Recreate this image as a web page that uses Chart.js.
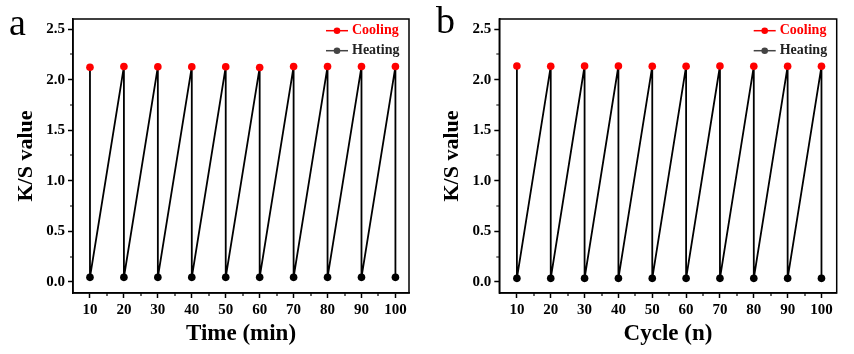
<!DOCTYPE html>
<html><head><meta charset="utf-8">
<script src="https://cdn.jsdelivr.net/npm/chart.js@4"></script>
<style>
html,body{margin:0;padding:0;background:#fff;}
#wrap{position:relative;width:854px;height:354px;overflow:hidden;background:#fff;}
.panel{position:absolute;top:0;height:354px;}
canvas{display:block;}
</style></head><body>
<div id="wrap">
<div class="panel" style="left:0;width:430px"><canvas id="ca" width="430" height="354"></canvas></div>
<div class="panel" style="left:430px;width:424px"><canvas id="cb" width="424" height="354"></canvas></div>
</div>
<script>
// ---- data ----
const xValues = [10, 20, 30, 40, 50, 60, 70, 80, 90, 100];
const coolingA = [2.123, 2.13, 2.127, 2.127, 2.127, 2.12, 2.13, 2.13, 2.13, 2.13];
const heatingA = [0.045, 0.045, 0.045, 0.045, 0.045, 0.045, 0.045, 0.045, 0.045, 0.045];
const coolingB = [2.135, 2.132, 2.135, 2.135, 2.132, 2.132, 2.135, 2.132, 2.132, 2.132];
const heatingB = [0.035, 0.035, 0.035, 0.035, 0.035, 0.035, 0.035, 0.035, 0.035, 0.035];
const xTicks = [10, 20, 30, 40, 50, 60, 70, 80, 90, 100];
const xMinorTicks = [15, 25, 35, 45, 55, 65, 75, 85, 95];
const yTicks = [0, 0.5, 1.0, 1.5, 2.0, 2.5];
const yMinorTicks = [0.25, 0.75, 1.25, 1.75, 2.25];
const seriesLabels = ['Cooling', 'Heating'];
const panelLetters = ['a', 'b'];
const xTitles = ['Time (min)', 'Cycle (n)'];
const yTitle = 'K/S value';

const FONT = '"Liberation Serif", "Times New Roman", serif';
const RED = '#ff0000';

const decor = {
  id: 'decor',
  afterDatasetsDraw(chart, args, opts) {
    const {ctx, chartArea: a, scales: {x, y}} = chart;
    ctx.save();
    ctx.strokeStyle = '#000';
    ctx.lineWidth = 1.5;
    ctx.strokeRect(a.left, a.top, a.right - a.left, a.bottom - a.top);
    ctx.beginPath();
    xMinorTicks.forEach(v => { const px = Math.round(x.getPixelForValue(v)); ctx.moveTo(px, a.bottom); ctx.lineTo(px, a.bottom + 3); });
    yMinorTicks.forEach(v => { const py = Math.round(y.getPixelForValue(v)); ctx.moveTo(a.left, py); ctx.lineTo(a.left - 3, py); });
    ctx.lineWidth = 1.2;
    ctx.stroke();
    // legend
    const items = [
      {label: seriesLabels[0], line: RED, text: RED, dy: 11.7},
      {label: seriesLabels[1], line: '#444', text: '#222', dy: 31.7}
    ];
    ctx.font = 'bold 14px ' + FONT;
    ctx.textBaseline = 'middle';
    items.forEach(it => {
      const yy = a.top + it.dy;
      ctx.strokeStyle = it.line; ctx.lineWidth = 1.5;
      ctx.beginPath(); ctx.moveTo(a.right - 83, yy); ctx.lineTo(a.right - 61, yy); ctx.stroke();
      ctx.fillStyle = it.line;
      ctx.beginPath(); ctx.arc(a.right - 72, yy, 3.3, 0, Math.PI * 2); ctx.fill();
      ctx.fillStyle = it.text;
      ctx.fillText(it.label, a.right - 57, yy);
    });
    // panel letter
    ctx.fillStyle = '#000';
    ctx.font = '38px ' + FONT;
    ctx.textBaseline = 'alphabetic';
    ctx.fillText(opts.letter, opts.letterX, opts.letterY);
    ctx.restore();
  }
};

function makeChart(id, cfg) {
  const path = [];
  xValues.forEach((xv, i) => { path.push({x: xv, y: cfg.cooling[i]}); path.push({x: xv, y: cfg.heating[i]}); });
  return new Chart(document.getElementById(id), {
    type: 'scatter',
    data: {datasets: [
      {label: seriesLabels[0], data: xValues.map((xv, i) => ({x: xv, y: cfg.cooling[i]})),
       backgroundColor: RED, borderColor: RED, pointRadius: 3.8, pointBorderWidth: 0, showLine: false},
      {label: seriesLabels[1], data: xValues.map((xv, i) => ({x: xv, y: cfg.heating[i]})),
       backgroundColor: '#000', borderColor: '#000', pointRadius: 3.8, pointBorderWidth: 0, showLine: false},
      {label: 'path', data: path, showLine: true, borderColor: '#000', borderWidth: 1.8, pointRadius: 0, fill: false}
    ]},
    options: {
      responsive: false, animation: false, devicePixelRatio: 1,
      layout: {padding: {left: 0, top: 19, right: cfg.padRight, bottom: 0}},
      plugins: {legend: {display: false}, tooltip: {enabled: false},
        decor: {letter: cfg.letter, letterX: cfg.letterX, letterY: cfg.letterY}},
      scales: {
        x: {type: 'linear', min: cfg.xMin, max: cfg.xMax,
          afterBuildTicks: s => { s.ticks = xTicks.map(v => ({value: v})); },
          afterFit: s => { s.height = 61; },
          grid: {display: true, drawOnChartArea: false, drawTicks: true, tickLength: 5, tickColor: '#000', tickWidth: 1.5},
          border: {display: true, color: '#000', width: 1.5},
          ticks: {color: '#000', font: {family: FONT, size: 15, weight: 'bold'}, padding: 3, maxRotation: 0, autoSkip: false,
            callback: v => String(v)},
          title: {display: true, text: cfg.xTitle, color: '#000', font: {family: FONT, size: 23, weight: 'bold'}, padding: {top: 0, bottom: 6}}
        },
        y: {type: 'linear', min: -0.11, max: 2.6,
          afterBuildTicks: s => { s.ticks = yTicks.map(v => ({value: v})); },
          afterFit: s => { s.width = cfg.yWidth; },
          grid: {display: true, drawOnChartArea: false, drawTicks: true, tickLength: 5, tickColor: '#000', tickWidth: 1.5},
          border: {display: true, color: '#000', width: 1.5},
          ticks: {color: '#000', font: {family: FONT, size: 15, weight: 'bold'}, padding: 3, autoSkip: false,
            callback: v => Number(v).toFixed(1)},
          title: {display: true, text: yTitle, color: '#000', font: {family: FONT, size: 22, weight: 'bold'}, padding: {top: cfg.yTitlePad, bottom: 0}}
        }
      }
    },
    plugins: [decor]
  });
}

makeChart('ca', {cooling: coolingA, heating: heatingA, xTitle: xTitles[0], letter: panelLetters[0],
  letterX: 9, letterY: 35, xMin: 5.0, xMax: 104.0, padRight: 21, yWidth: 73, yTitlePad: 13});
makeChart('cb', {cooling: coolingB, heating: heatingB, xTitle: xTitles[1], letter: panelLetters[1],
  letterX: 6, letterY: 33, xMin: 4.8, xMax: 104.5, padRight: 17.3, yWidth: 69.3, yTitlePad: 9});
</script>
</body></html>
